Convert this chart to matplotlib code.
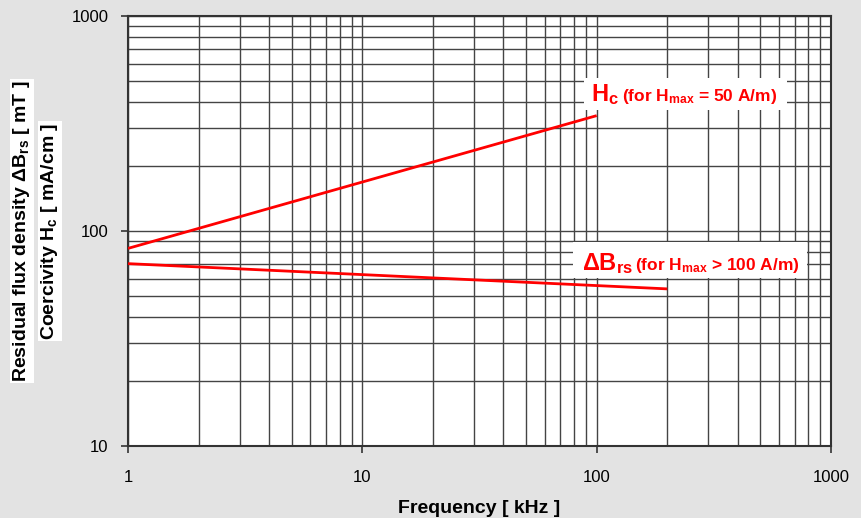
import matplotlib
matplotlib.use('Agg')
import matplotlib.pyplot as plt
from matplotlib.patches import Rectangle
from matplotlib.ticker import LogLocator, NullFormatter, FixedLocator

plt.rcParams['font.family'] = ['Liberation Sans', 'DejaVu Sans']
plt.rcParams['mathtext.fontset'] = 'custom'
plt.rcParams['mathtext.bf'] = 'Liberation Sans:bold'
plt.rcParams['mathtext.rm'] = 'Liberation Sans'

# Data
freq_hc = [1, 100]
hc = [83, 344]
freq_brs = [1, 200]
brs = [70.5, 53.8]

x_ticks = [1, 10, 100, 1000]
y_ticks = [10, 100, 1000]

bg = '#e3e3e3'
grid_col = '#444444'
red = '#ff0000'
W, H = 862, 518


def fx(px):
    return px / W


def fy(py):
    return 1 - py / H


fig = plt.figure(figsize=(8.62, 5.18), dpi=100, facecolor=bg)
ax = fig.add_axes([fx(128), fy(446), (831 - 128) / W, (446 - 16) / H])
ax.set_facecolor('white')

ax.plot(freq_hc, hc, color=red, lw=2, solid_capstyle='butt', zorder=3)
ax.plot(freq_brs, brs, color=red, lw=2, solid_capstyle='butt', zorder=3)

ax.set_xscale('log')
ax.set_yscale('log')
ax.set_xlim(1, 1000)
ax.set_ylim(10, 1000)

ax.xaxis.set_major_locator(FixedLocator(x_ticks))
ax.yaxis.set_major_locator(FixedLocator(y_ticks))
ax.set_xticklabels([str(v) for v in x_ticks])
ax.set_yticklabels([str(v) for v in y_ticks])
ax.xaxis.set_minor_locator(LogLocator(base=10, subs=range(2, 10)))
ax.yaxis.set_minor_locator(LogLocator(base=10, subs=range(2, 10)))
ax.xaxis.set_minor_formatter(NullFormatter())
ax.yaxis.set_minor_formatter(NullFormatter())

ax.grid(True, which='both', color=grid_col, lw=1.0)
ax.tick_params(which='major', direction='out', length=5, width=1.2, color='#333333',
               labelsize=12, pad=9)
ax.tick_params(which='minor', length=0)
ax.tick_params(axis='x', pad=12)
for s in ax.spines.values():
    s.set_color('#333333')
    s.set_linewidth(1.5)

ax.set_xlabel('Frequency [ kHz ]', fontsize=14, fontweight='bold', labelpad=11)

box = dict(facecolor='white', edgecolor='none', pad=1)
fig.text(fx(22), fy(231), r'Residual flux density $\mathbf{\Delta B_{rs}}$ [ mT ]',
         rotation=90, ha='center', va='center', fontsize=14, fontweight='bold', bbox=box)
fig.text(fx(50), fy(231), r'Coercivity $\mathbf{H_{c}}$ [ mA/cm ]',
         rotation=90, ha='center', va='center', fontsize=14, fontweight='bold', bbox=box)

# white boxes behind the curve labels
for x0, y0, x1, y1 in [(584, 78, 787, 110), (573, 242, 807, 278)]:
    fig.patches.append(Rectangle((fx(x0), fy(y1)), (x1 - x0) / W, (y1 - y0) / H,
                                 transform=fig.transFigure, facecolor='white',
                                 edgecolor='none', zorder=5))

fig.text(fx(591), fy(101), r'$\mathbf{H_{c}}$', ha='left', va='baseline',
         color=red, fontsize=17, zorder=6)
fig.text(fx(622), fy(101), r'(for $\mathbf{H_{max}}$ = 50 A/m)', ha='left', va='baseline',
         color=red, fontsize=12.5, fontweight='bold', zorder=6)
fig.text(fx(582), fy(270), r'$\mathbf{\Delta B_{rs}}$', ha='left', va='baseline',
         color=red, fontsize=17, zorder=6)
fig.text(fx(635), fy(270), r'(for $\mathbf{H_{max}}$ > 100 A/m)', ha='left', va='baseline',
         color=red, fontsize=12.5, fontweight='bold', zorder=6)

fig.savefig('out.png', dpi=100, facecolor=bg)
